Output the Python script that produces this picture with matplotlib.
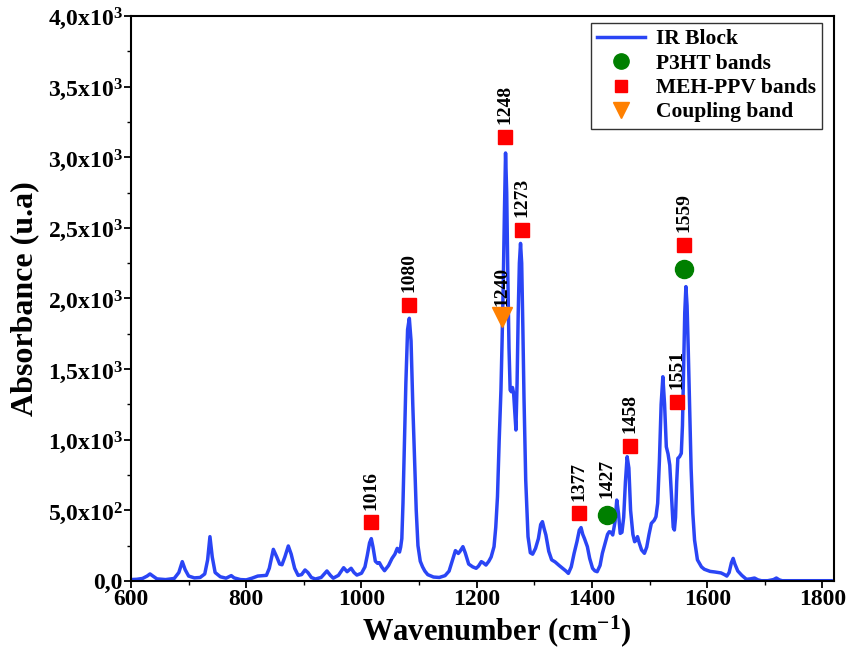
import matplotlib
matplotlib.use("Agg")
import matplotlib.pyplot as plt
from matplotlib.ticker import MultipleLocator, FixedLocator, FixedFormatter
from matplotlib.lines import Line2D

# spectrum (wavenumber, absorbance)
wavenumber = [
    600, 610, 620, 628, 633, 638, 645, 660, 675, 683, 689, 694, 700, 710, 720,
    728, 733, 737, 741, 746, 755, 765, 770, 774, 779, 790, 800, 810, 820, 835,
    840, 847, 853, 858, 862, 867, 873, 878, 884, 890, 896, 902, 907, 913, 920,
    930, 940, 946, 951, 960, 969, 975, 982, 987, 992, 1000, 1006, 1010, 1014,
    1017, 1020, 1024, 1028, 1031, 1035, 1040, 1047, 1053, 1058, 1062, 1066,
    1068, 1070, 1072, 1074, 1077, 1080, 1083, 1086, 1089, 1092, 1095, 1098,
    1102, 1106, 1110, 1115, 1125, 1135, 1145, 1152, 1158, 1163, 1168, 1171,
    1176, 1180, 1186, 1193, 1199, 1203, 1208, 1211, 1216, 1221, 1225, 1230,
    1233, 1236, 1239, 1242, 1244, 1246, 1248, 1250, 1252, 1254, 1256, 1258,
    1260, 1262, 1264, 1266, 1268, 1270, 1272, 1274, 1276, 1278, 1280, 1282,
    1285, 1289, 1293, 1297, 1302, 1307, 1311, 1314, 1317, 1320, 1325, 1330,
    1336, 1343, 1349, 1355, 1359, 1364, 1369, 1374, 1378, 1381, 1384, 1387,
    1392, 1396, 1401, 1405, 1409, 1414, 1418, 1423, 1427, 1430, 1433, 1436,
    1440, 1443, 1446, 1449, 1452, 1455, 1458, 1461, 1464, 1467, 1471, 1474,
    1477, 1479, 1482, 1486, 1491, 1495, 1499, 1503, 1508, 1511, 1514, 1517,
    1520, 1523, 1526, 1529, 1532, 1535, 1538, 1541, 1543, 1545, 1547, 1549,
    1552, 1555, 1557, 1559, 1561, 1563, 1565, 1567, 1569, 1572, 1575, 1578,
    1583, 1590, 1595, 1605, 1613, 1624, 1630, 1634, 1638, 1642, 1645, 1648,
    1653, 1660, 1668, 1675, 1682, 1688, 1694, 1705, 1715, 1720, 1725, 1730,
    1800, 1815,
]
absorbance = [
    10, 12, 18, 35, 50, 35, 15, 10, 18, 60, 137, 80, 35, 22, 25,
    50, 150, 314, 170, 60, 30, 20, 30, 38, 22, 10, 8, 20, 35, 40,
    90, 224, 170, 120, 115, 170, 248, 190, 90, 40, 45, 78, 60, 25, 14,
    25, 71, 40, 20, 40, 94, 66, 90, 60, 42, 55, 100, 180, 270,
    300, 240, 140, 125, 130, 100, 73, 110, 160, 190, 231, 205,
    240, 300, 550, 900, 1400, 1780, 1860, 1700, 1250, 880, 500, 250,
    140, 100, 70, 45, 28, 25, 38, 70, 150, 215, 195, 210,
    243, 200, 120, 100, 90, 105, 137, 130, 113, 140, 170, 243,
    380, 597, 1000, 1350, 1700, 2100, 2600, 3030, 2750, 2150, 1650, 1352,
    1340, 1370, 1330, 1200, 1069, 1400, 1900, 2250, 2390, 2250, 1800, 1300,
    715, 314, 200, 190, 231, 300, 400, 420, 370, 326, 210, 150,
    135, 110, 90, 70, 54, 100, 196, 280, 360, 378, 330, 300,
    243, 160, 90, 72, 66, 110, 196, 270, 330, 349, 345, 326,
    420, 573, 480, 337, 345, 450, 700, 880, 800, 500, 330, 278,
    290, 314, 270, 220, 196, 240, 330, 408, 430, 455, 550, 850,
    1250, 1446, 1250, 950, 900, 820, 600, 380, 361, 450, 700, 868,
    880, 904, 1100, 1500, 1900, 2084, 1950, 1650, 1305, 800, 479, 290,
    150, 100, 83, 68, 64, 57, 45, 35, 60, 130, 160, 120,
    71, 40, 12, 15, 21, 8, 2, 2, 10, 21, 8, 2,
    2, 2,
]

# band markers
meh_wn = [1017, 1082, 1249, 1278, 1377, 1466, 1548, 1559]
meh_abs = [415, 1955, 3146, 2485, 479, 958, 1270, 2379]
meh_labels = ["1016", "1080", "1248", "1273", "1377", "1458", "1551", "1559"]

p3ht_wn = [1426, 1560.5]
p3ht_abs = [467, 2207]
p3ht_labels = ["1427", None]

coupling_wn = [1243]
coupling_abs = [1870]
coupling_labels = ["1240"]

yticks = [0, 500, 1000, 1500, 2000, 2500, 3000, 3500, 4000]
ytick_labels = ["0,0", r"5,0x10$^{2}$", r"1,0x10$^{3}$", r"1,5x10$^{3}$",
                r"2,0x10$^{3}$", r"2,5x10$^{3}$", r"3,0x10$^{3}$",
                r"3,5x10$^{3}$", r"4,0x10$^{3}$"]

plt.rcParams["font.family"] = ["Liberation Serif", "DejaVu Serif"]
plt.rcParams["font.weight"] = "bold"
plt.rcParams["mathtext.fontset"] = "custom"
plt.rcParams["mathtext.rm"] = "Liberation Serif:bold"
plt.rcParams["mathtext.bf"] = "Liberation Serif:bold"
plt.rcParams["mathtext.it"] = "Liberation Serif:bold"

fig = plt.figure(figsize=(8.49, 6.49), dpi=100)
ax = fig.add_axes([131 / 849, 1 - 581 / 649, (834 - 131) / 849, (581 - 16) / 649])

blue = "#2a45f5"
red = "#ff0000"
green = "#007f00"
orange = "#ff8000"

ax.plot(wavenumber, absorbance, color=blue, lw=2.5, zorder=2)
ax.plot(meh_wn, meh_abs, "s", color=red, ms=10, zorder=3)
ax.plot(p3ht_wn, p3ht_abs, "o", color=green, ms=13, zorder=3)
ax.plot(coupling_wn, coupling_abs, "v", color=orange, ms=14, zorder=3)

for xs, ys, labs, off in [(meh_wn, meh_abs, meh_labels, 9),
                           (p3ht_wn, p3ht_abs, p3ht_labels, 12),
                           (coupling_wn, coupling_abs, coupling_labels, 8)]:
    for x, y, lab in zip(xs, ys, labs):
        if lab is None:
            continue
        ax.annotate(lab, (x, y), xytext=(0, off), textcoords="offset points",
                    rotation=90, ha="center", va="bottom",
                    fontsize=14, fontweight="bold")

ax.set_xlim(600, 1820)
ax.set_ylim(0, 4000)
ax.xaxis.set_major_locator(FixedLocator([600, 800, 1000, 1200, 1400, 1600, 1800]))
ax.xaxis.set_minor_locator(MultipleLocator(100))
ax.yaxis.set_major_locator(FixedLocator(yticks))
ax.yaxis.set_major_formatter(FixedFormatter(ytick_labels))
ax.yaxis.set_minor_locator(MultipleLocator(250))
ax.tick_params(which="major", direction="out", length=5, width=1.3,
               labelsize=17)
ax.tick_params(which="minor", direction="out", length=3, width=1.0)
ax.tick_params(axis="x", pad=1)
ax.tick_params(axis="y", pad=1)
for s in ax.spines.values():
    s.set_linewidth(1.5)

ax.set_xlabel(r"Wavenumber (cm$^{-1}$)", fontsize=22, fontweight="bold",
              labelpad=2, x=0.52)
ax.set_ylabel("Absorbance (u.a)", fontsize=23, fontweight="bold", labelpad=6)

handles = [
    Line2D([], [], color=blue, lw=2.5),
    Line2D([], [], ls="", marker="o", color=green, ms=11),
    Line2D([], [], ls="", marker="s", color=red, ms=9),
    Line2D([], [], ls="", marker="v", color=orange, ms=12),
]
leg = ax.legend(handles, ["IR Block", "P3HT bands", "MEH-PPV bands", "Coupling band"],
                loc="upper right", bbox_to_anchor=(0.983, 0.988),
                borderaxespad=0, fancybox=False, framealpha=1,
                edgecolor="#333333", prop={"weight": "bold", "size": 15.5},
                handlelength=2.2, labelspacing=0.2, handletextpad=0.5,
                borderpad=0.3)
leg.get_frame().set_linewidth(1.0)

fig.savefig("out.png", dpi=100)
